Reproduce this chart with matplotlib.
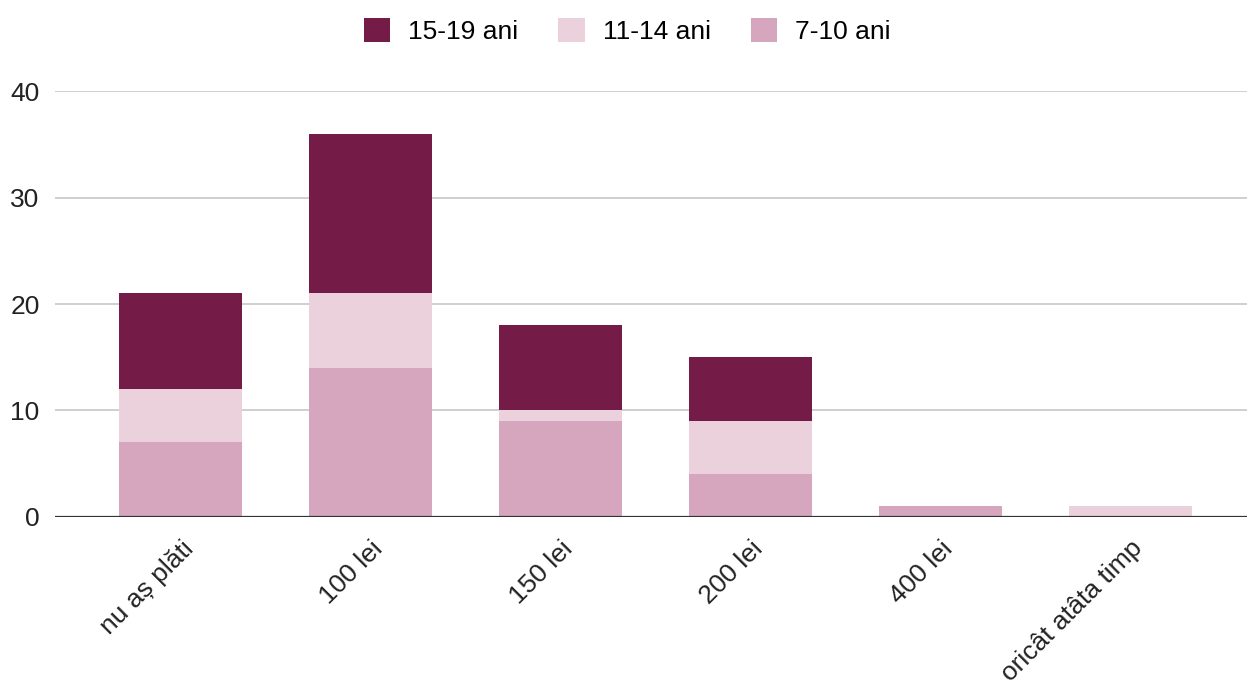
import matplotlib
matplotlib.use("Agg")
import matplotlib.pyplot as plt
import numpy as np

plt.rcParams["font.family"] = ["Liberation Sans", "DejaVu Sans"]

categories = ["nu aș plăti", "100 lei", "150 lei", "200 lei", "400 lei", "oricât atâta timp"]
age_7_10 = [7, 14, 9, 4, 1, 0]
age_11_14 = [5, 7, 1, 5, 0, 1]
age_15_19 = [9, 15, 8, 6, 0, 0]
y_ticks = [0, 10, 20, 30, 40]

C_DARK = "#741B47"
C_LIGHT = "#EAD1DC"
C_MID = "#D5A6BD"

fig = plt.figure(figsize=(12.47, 6.81), dpi=100)
ax = fig.add_axes([0.044, 0.241, 0.956, 0.625])

x = np.arange(len(categories))
w = 0.648
b1 = np.array(age_7_10)
b2 = b1 + np.array(age_11_14)
h_mid = ax.bar(x, age_7_10, w, color=C_MID, label="7-10 ani", zorder=3)
h_light = ax.bar(x, age_11_14, w, bottom=b1, color=C_LIGHT, label="11-14 ani", zorder=3)
h_dark = ax.bar(x, age_15_19, w, bottom=b2, color=C_DARK, label="15-19 ani", zorder=3)

ax.set_xlim(-0.664, 5.616)
ax.set_ylim(0, 40)
ax.set_yticks(y_ticks)
ax.yaxis.grid(True, color="#cccccc", linewidth=1.3, zorder=0)
ax.axhline(0, color="#333333", linewidth=1.6, zorder=4)
for s in ax.spines.values():
    s.set_visible(False)
ax.tick_params(axis="y", length=0, pad=11, labelsize=19, labelcolor="#222222")
ax.tick_params(axis="x", length=0, pad=14, labelsize=19, labelcolor="#222222")
ax.set_xticks(x)
ax.set_xticklabels(categories, rotation=45, ha="right", rotation_mode="anchor")

fig.legend(handles=[h_dark, h_light, h_mid], labels=["15-19 ani", "11-14 ani", "7-10 ani"],
           loc="center", bbox_to_anchor=(0.503, 0.954), ncol=3, frameon=False,
           fontsize=19, handlelength=1.0, handleheight=1.0, columnspacing=1.5,
           handletextpad=0.7)

plt.savefig("out.png", dpi=100)
